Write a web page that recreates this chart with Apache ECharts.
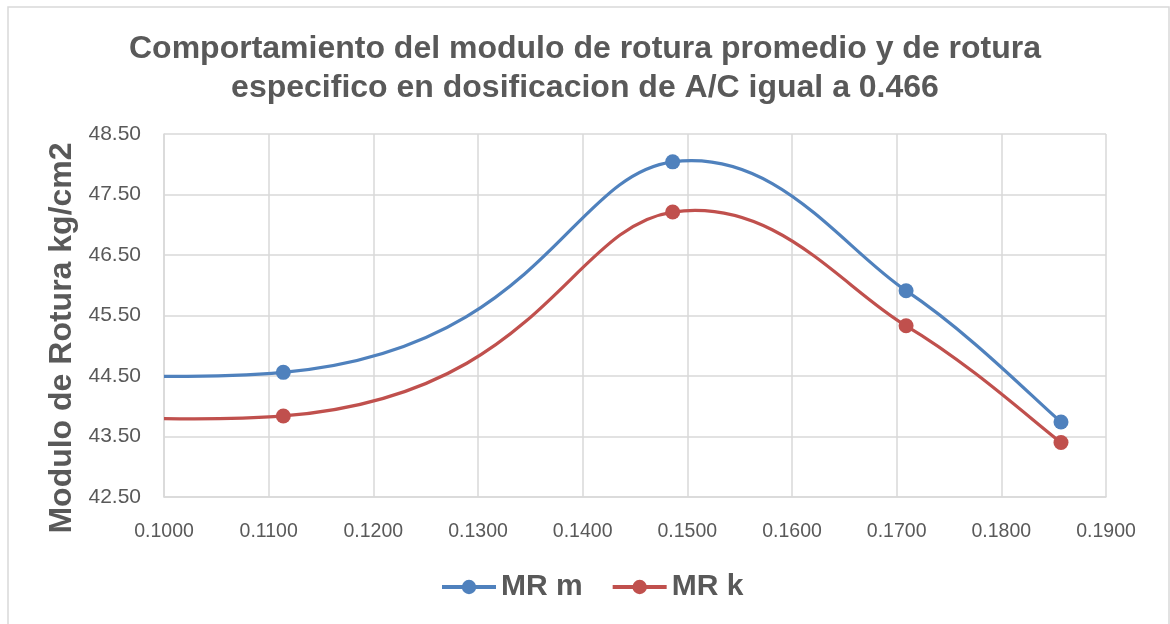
<!DOCTYPE html>
<html>
<head>
<meta charset="utf-8">
<script src="https://cdn.jsdelivr.net/npm/echarts@6/dist/echarts.min.js"></script>
<style>
  html, body { margin: 0; padding: 0; background: #ffffff; }
  #chart { width: 1170px; height: 624px; }
</style>
</head>
<body>
<div id="chart"></div>
<script>
// Relación A/C (eje X). La primera lectura queda a la izquierda del rango graficado
// y solo determina el tramo inicial de la curva.
const relacion = [0.0000, 0.1114, 0.1486, 0.1709, 0.1857];
// Módulo de rotura promedio (MR m) y específico (MR k), kg/cm2
const mrM = [45.74, 44.56, 48.04, 45.91, 43.74];
const mrK = [45.23, 43.84, 47.21, 45.33, 43.40];
const serieNombres = ['MR m', 'MR k'];
const colores = ['#4F81BD', '#C0504D'];
const titulo = 'Comportamiento del modulo de rotura promedio y de rotura\nespecifico en dosificacion de A/C igual a 0.466';
const ejeYNombre = 'Modulo de Rotura kg/cm2';

const FONT = '"Liberation Sans", Arial, sans-serif';
const GRIS = '#595959';
const X_MIN = 0.1;

function pares(valores) {
  return relacion.map((x, i) => [x, valores[i]]);
}

// Curva suavizada tipo Bézier: tangente en cada punto = (siguiente - anterior) / 6
function curvaRender(valores, color) {
  const n = relacion.length;
  return function (params, api) {
    const i = params.dataIndex;
    if (i >= n - 1) { return null; }
    const P = k => {
      const j = Math.max(0, Math.min(n - 1, k));
      return api.coord([relacion[j], valores[j]]);
    };
    const p0 = P(i - 1), p1 = P(i), p2 = P(i + 1), p3 = P(i + 2);
    return {
      type: 'bezierCurve',
      shape: {
        x1: p1[0], y1: p1[1],
        x2: p2[0], y2: p2[1],
        cpx1: p1[0] + (p2[0] - p0[0]) / 6,
        cpy1: p1[1] + (p2[1] - p0[1]) / 6,
        cpx2: p2[0] - (p3[0] - p1[0]) / 6,
        cpy2: p2[1] - (p3[1] - p1[1]) / 6
      },
      style: { stroke: color, lineWidth: 3.2, fill: null, lineCap: 'round' }
    };
  };
}

function curva(nombre, valores, color) {
  return {
    name: nombre + ' curva',
    type: 'custom',
    clip: true,
    z: 2,
    silent: true,
    data: pares(valores),
    encode: { x: 0, y: 1 },
    renderItem: curvaRender(valores, color)
  };
}

function marcadores(nombre, valores, color) {
  return {
    name: nombre,
    type: 'line',
    z: 3,
    clip: true,
    data: pares(valores).map(p => (p[0] < X_MIN ? { value: p, symbol: 'none' } : { value: p })),
    symbol: 'circle',
    symbolSize: 15,
    lineStyle: { color: color, width: 0, opacity: 0 },
    itemStyle: { color: color },
    emphasis: { disabled: true }
  };
}

const chart = echarts.init(document.getElementById('chart'), null, { renderer: 'canvas' });
chart.setOption({
  animation: false,
  backgroundColor: '#ffffff',
  title: {
    text: titulo,
    left: 'center',
    top: 25,
    textStyle: {
      fontFamily: FONT,
      fontSize: 32,
      fontWeight: 'bold',
      color: GRIS,
      lineHeight: 39
    }
  },
  legend: {
    data: serieNombres.map((nombre, i) => ({
      name: nombre,
      lineStyle: { color: colores[i], width: 4, opacity: 1 },
      itemStyle: { color: colores[i] }
    })),
    bottom: 17,
    left: 435,
    itemWidth: 54,
    itemHeight: 18,
    itemGap: 28,
    textStyle: { fontFamily: FONT, fontSize: 30, fontWeight: 'bold', color: GRIS }
  },
  grid: { left: 164, right: 64, top: 134, bottom: 127 },
  xAxis: {
    type: 'value',
    min: X_MIN,
    max: 0.19,
    interval: 0.01,
    axisLine: { show: true, lineStyle: { color: '#D9D9D9', width: 1.5 } },
    axisTick: { show: false },
    splitLine: { show: true, lineStyle: { color: '#D9D9D9', width: 1.5 } },
    axisLabel: {
      formatter: v => v.toFixed(4),
      fontFamily: FONT,
      fontSize: 19.5,
      color: GRIS,
      margin: 25
    }
  },
  yAxis: {
    type: 'value',
    min: 42.5,
    max: 48.5,
    interval: 1,
    axisLine: { show: true, lineStyle: { color: '#D9D9D9', width: 1.5 } },
    axisTick: { show: false },
    splitLine: { show: true, lineStyle: { color: '#D9D9D9', width: 1.5 } },
    axisLabel: {
      formatter: v => v.toFixed(2),
      fontFamily: FONT,
      fontSize: 21,
      color: GRIS,
      margin: 23
    }
  },
  graphic: [
    {
      type: 'rect',
      shape: { x: 8, y: 7, width: 1161, height: 640 },
      style: { fill: 'none', stroke: '#D9D9D9', lineWidth: 1.5 },
      silent: true
    },
    {
      type: 'text',
      x: 62,
      y: 338,
      rotation: Math.PI / 2,
      style: {
        text: ejeYNombre,
        fontFamily: FONT,
        fontSize: 32,
        fontWeight: 'bold',
        fill: GRIS,
        align: 'center',
        verticalAlign: 'middle'
      }
    }
  ],
  series: [
    marcadores(serieNombres[0], mrM, colores[0]),
    marcadores(serieNombres[1], mrK, colores[1]),
    curva(serieNombres[0], mrM, colores[0]),
    curva(serieNombres[1], mrK, colores[1])
  ]
});
</script>
</body>
</html>
